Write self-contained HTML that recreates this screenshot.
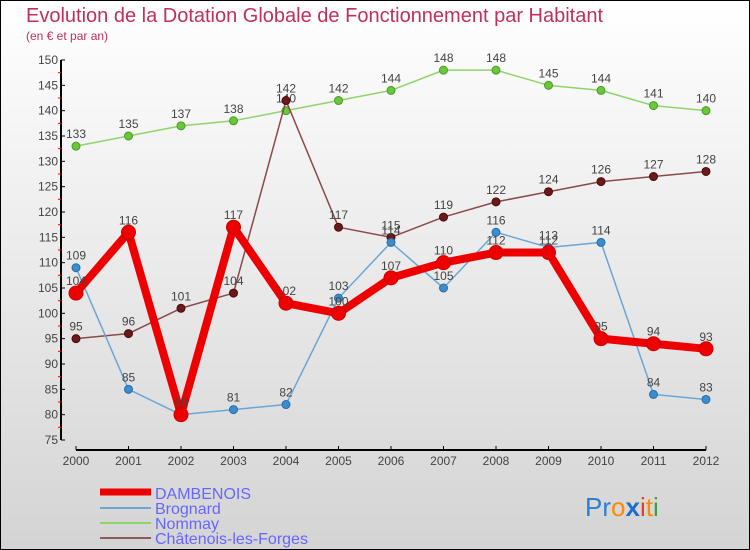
<!DOCTYPE html>
<html><head><meta charset="utf-8"><style>
body{margin:0}
#c{position:relative;width:750px;height:550px;box-sizing:border-box;border:1px solid #000;background:linear-gradient(#ffffff,#d4d4d4);font-family:"Liberation Sans",sans-serif;overflow:hidden}
</style></head><body>
<div id="c">
<svg id="s" width="750" height="550" style="position:absolute;left:-1px;top:-1px">
<text x="26" y="22" font-size="20" fill="#c0305a">Evolution de la Dotation Globale de Fonctionnement par Habitant</text>
<text x="26" y="40" font-size="12" fill="#c0305a">(en € et par an)</text>
<g id="axes"></g><g id="series"></g>
<g>
<line x1="100" y1="492" x2="151" y2="492" stroke="#ee0000" stroke-width="7"/>
<text x="155" y="499" font-size="16" fill="#6666ff">DAMBENOIS</text>
<line x1="100" y1="508" x2="151" y2="508" stroke="#6aa6d6" stroke-width="2"/>
<text x="155" y="514" font-size="16" fill="#6666ff">Brognard</text>
<line x1="100" y1="523" x2="151" y2="523" stroke="#8fd46a" stroke-width="2"/>
<text x="155" y="529" font-size="16" fill="#6666ff">Nommay</text>
<line x1="100" y1="538" x2="151" y2="538" stroke="#8a5a5a" stroke-width="2"/>
<text x="155" y="544" font-size="16" fill="#6666ff">Châtenois-les-Forges</text>
</g>
<text x="585" y="516" font-size="26"><tspan fill="#2a7fd4">Pr</tspan><tspan fill="#ff8a00">o</tspan><tspan fill="#1a6fd0" font-weight="bold">x</tspan><tspan fill="#e8401a">i</tspan><tspan fill="#ff8a00">t</tspan><tspan fill="#3aa040">i</tspan></text>
</svg>
</div>
<script>
const years=[2000,2001,2002,2003,2004,2005,2006,2007,2008,2009,2010,2011,2012];
const yTicks=[75,80,85,90,95,100,105,110,115,120,125,130,135,140,145,150];
const dambenois=[104,116,80,117,102,100,107,110,112,112,95,94,93];
const brognard=[109,85,80,81,82,103,114,105,116,113,114,84,83];
const nommay=[133,135,137,138,140,142,144,148,148,145,144,141,140];
const chatenois=[95,96,101,104,142,117,115,119,122,124,126,127,128];
const NS="http://www.w3.org/2000/svg";
const X=i=>76+i*52.5, Y=v=>440-(v-75)*(380/75);
function mk(t,a,p){const e=document.createElementNS(NS,t);for(const k in a)e.setAttribute(k,a[k]);p.appendChild(e);return e;}
const ax=document.getElementById('axes');
let l=mk('line',{x1:61,y1:Y(150),x2:61,y2:Y(75),stroke:'#000','stroke-width':2},ax);


l=mk('line',{x1:76,y1:450,x2:706,y2:450,stroke:'#000','stroke-width':2},ax);


yTicks.forEach((v,i)=>{
  mk('line',{x1:61,y1:Y(v),x2:65,y2:Y(v),stroke:'#000'},ax);
  if(i<yTicks.length-1)mk('line',{x1:58,y1:Y(v+2.5),x2:61,y2:Y(v+2.5),stroke:'#f00'},ax);
  const t=mk('text',{x:58,y:Y(v)+4,'font-size':12,fill:'#444','text-anchor':'end'},ax);t.textContent=v;
  
  
});
years.forEach((y,i)=>{
  mk('line',{x1:X(i),y1:446,x2:X(i),y2:450,stroke:'#000'},ax);
  const t=mk('text',{x:X(i),y:465,'font-size':12,fill:'#444','text-anchor':'middle'},ax);t.textContent=y;
  
  
});
const sg=document.getElementById('series');
function draw(data,name,color,w,r,dot,stroke){
  const g=mk('g',{},sg);
  
  
  const p=mk('polyline',{points:data.map((v,i)=>X(i)+','+Y(v)).join(' '),fill:'none',stroke:color,'stroke-width':w,'stroke-linejoin':'round'},g);
  
  
  data.forEach((v,i)=>{
    const c=mk('circle',{cx:X(i),cy:Y(v),r:r,fill:dot,stroke:stroke,'stroke-width':1},g);
    
    
    const t=mk('text',{x:X(i),y:Y(v)-8,'font-size':12,fill:'#444','text-anchor':'middle'},g);t.textContent=v;
    
    
  });
}
draw(nommay,'nommay','#8fd46a',1.5,4,'#6cc63a','#4a9a2a');
draw(chatenois,'chatenois','#8a4a4a',1.5,4,'#6a1a1a','#4a0a0a');
draw(brognard,'brognard','#6aa6d6',1.5,4,'#3a8ed0','#2a6aa0');
draw(dambenois,'dambenois','#ee0000',8,7,'#ee0000','#cc0000');
</script>
</body></html>
